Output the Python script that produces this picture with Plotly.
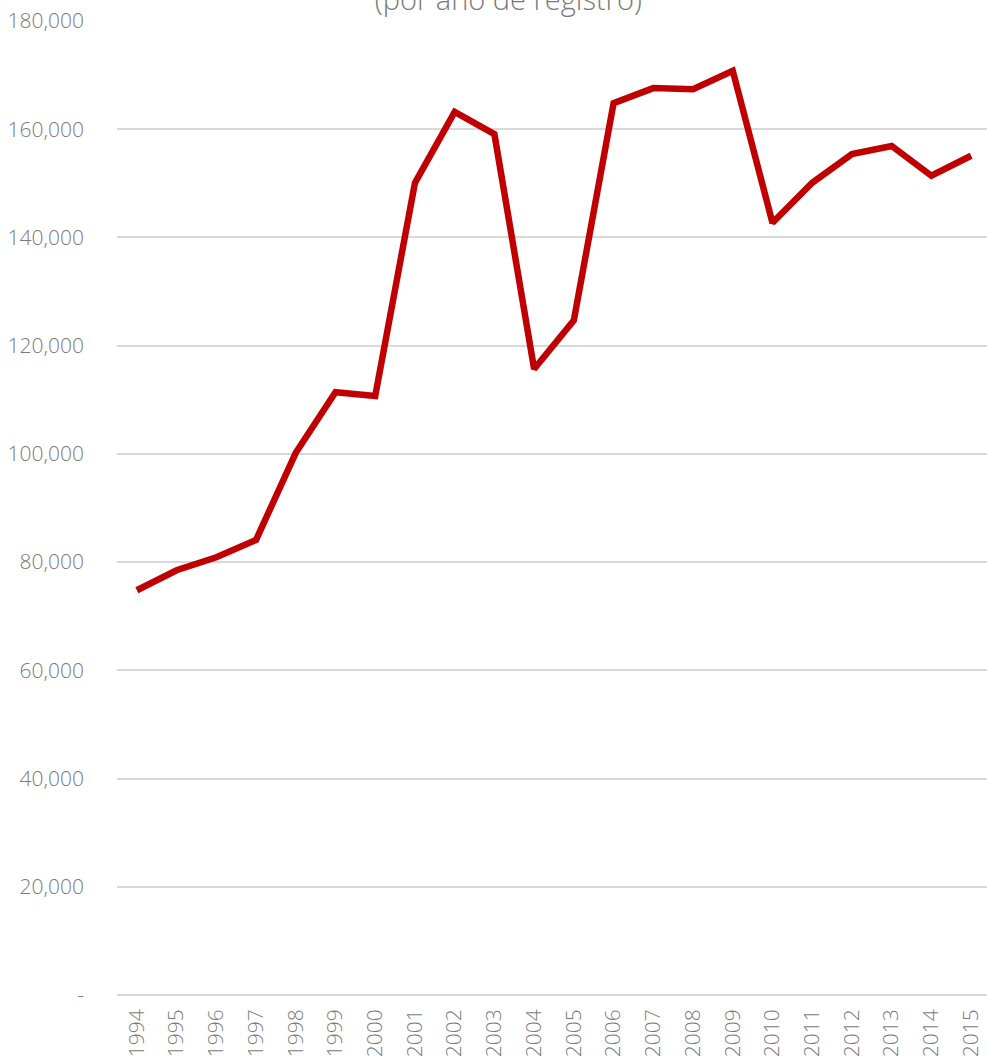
import plotly.graph_objects as go

years = [str(y) for y in range(1994, 2016)]
values = [74800, 78500, 80900, 84100, 100200, 111400, 110700, 150100, 163200, 159100,
          115700, 124700, 164800, 167600, 167400, 170800, 142700, 150100, 155400, 156900,
          151400, 155100]
ytickvals = [0, 20000, 40000, 60000, 80000, 100000, 120000, 140000, 160000, 180000]
yticktext = ["-", "20,000", "40,000", "60,000", "80,000", "100,000", "120,000", "140,000", "160,000", "180,000"]
title_text = "(por año de registro)"

fig = go.Figure()
fig.add_trace(go.Scatter(x=years, y=values, mode="lines",
                         line=dict(color="#C00000", width=6.5), showlegend=False))

font_family = "Open Sans, Lato, sans-serif"
fig.update_layout(
    width=987, height=1060,
    margin=dict(l=117, r=0, t=21, b=65),
    paper_bgcolor="white", plot_bgcolor="white",
    title=dict(text=title_text, x=0.515, xref="container", xanchor="center",
               y=1.0, yref="container", yanchor="middle",
               font=dict(family=font_family, size=29, color="#7A7A7A", weight=300)),
    xaxis=dict(type="category", range=[-0.5, 21.4], tickangle=-90,
               tickfont=dict(family=font_family, size=21, color="#7A7A7A", weight=300),
               showgrid=False, showline=False, zeroline=False, ticks="",
               ticklabelstandoff=9, automargin=False),
    yaxis=dict(range=[0, 180000], tickvals=ytickvals, ticktext=yticktext,
               tickfont=dict(family=font_family, size=21, color="#7A7A7A", weight=300),
               showgrid=True, gridcolor="#D9D9D9", gridwidth=1.5,
               zeroline=True, zerolinecolor="#D9D9D9", zerolinewidth=1.5,
               showline=False, ticks="", ticklabelstandoff=32, automargin=False),
)
fig.write_html("out.html", config={"displayModeBar": False},
               post_script="document.body.style.margin='0';document.body.style.overflow='hidden';")
